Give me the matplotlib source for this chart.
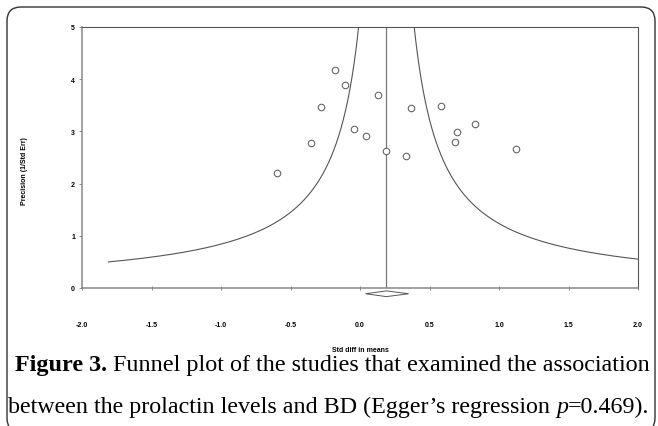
import numpy as np
import matplotlib
matplotlib.use("Agg")
import matplotlib.pyplot as plt
from matplotlib.patches import FancyBboxPatch, Polygon
from matplotlib.transforms import IdentityTransform

# study effects (std diff in means) and precision (1/SE)
effect = [-0.60, -0.35, -0.28, -0.18, -0.11, -0.04, 0.04, 0.13,
          0.19, 0.33, 0.37, 0.58, 0.68, 0.70, 0.83, 1.12]
precision = [2.21, 2.77, 3.47, 4.18, 3.88, 3.04, 2.92, 3.70,
             2.62, 2.52, 3.44, 3.49, 2.80, 2.99, 3.15, 2.66]
pooled = 0.19
pooled_ci = (0.04, 0.35)
xticks = [-2.0, -1.5, -1.0, -0.5, 0.0, 0.5, 1.0, 1.5, 2.0]
yticks = [0, 1, 2, 3, 4, 5]

caption1 = [('Figure 3.', 'normal', 'bold'),
            (' Funnel plot of the studies that examined the association', 'normal', 'normal')]
caption2 = [('between the prolactin levels and BD (Egger’s regression ', 'normal', 'normal'),
            ('p', 'italic', 'normal'),
            ('=0.469).', 'normal', 'normal')]

W, H = 658, 427
fig = plt.figure(figsize=(W / 100, H / 100), dpi=100)
ax = fig.add_axes([82 / W, 1 - 289 / H, 556 / W, 261 / H])

# funnel limits
prec = np.linspace(0.5, 5.5, 400)
ax.plot(pooled - 1.0 / prec, prec, color='#555555', lw=0.8)
ax.plot(pooled + 1.0 / prec, prec, color='#555555', lw=0.8)
ax.axvline(pooled, color='#777777', lw=0.9)

ax.scatter(effect, precision, s=22, facecolors='white', edgecolors='#666666',
           linewidths=0.8, zorder=3)

# pooled estimate diamond below the axis
dy = 0.055
yc = -0.11
ax.add_patch(Polygon([(pooled_ci[0], yc), (pooled, yc + dy), (pooled_ci[1], yc),
                      (pooled, yc - dy)], closed=True, facecolor='white',
                     edgecolor='#555555', lw=0.7, clip_on=False, zorder=4))

ax.set_xlim(-2.0, 2.0)
ax.set_ylim(0, 5)
ax.set_xticks(xticks)
ax.set_xticklabels(['%.1f' % v for v in xticks])
ax.set_yticks(yticks)
for lab in ax.get_xticklabels() + ax.get_yticklabels():
    lab.set_fontsize(5)
    lab.set_fontweight('bold')
    lab.set_family('Liberation Sans')
ax.tick_params(axis='x', direction='inout', length=3, width=0.6, color='#777777', pad=22)
ax.tick_params(axis='y', direction='out', length=2, width=0.6, color='#777777', pad=3)
for side in ['left', 'bottom']:
    ax.spines[side].set_color('#888888')
    ax.spines[side].set_linewidth(1.1)
for side in ['top', 'right']:
    ax.spines[side].set_color('#555555')
    ax.spines[side].set_linewidth(0.8)

fig.text(360 / W, 1 - 351 / H, 'Std diff in means', fontsize=5, fontweight='bold',
         family='Liberation Sans', ha='center', va='center')
fig.text(25 / W, 1 - 171 / H, 'Precision (1/Std Err)', fontsize=5, fontweight='bold',
         family='Liberation Sans', ha='center', va='center', rotation=90)


def caption_line(pieces, x0, x1, ybase, fs=17):
    """Draw styled pieces one after another, then scale to span x0..x1 pixels."""
    renderer = fig.canvas.get_renderer()
    texts = []
    for s, style, weight in pieces:
        texts.append(fig.text(0, 0, s, fontsize=fs, family='Liberation Serif',
                              style=style, fontweight=weight, ha='left',
                              va='baseline', transform=IdentityTransform()))

    def layout():
        x = x0
        for t in texts:
            t.set_position((x, ybase))
            x += t.get_window_extent(renderer).width
        return x - x0

    width = layout()
    scale = (x1 - x0) / width
    for t in texts:
        t.set_fontsize(fs * scale)
    layout()


caption_line(caption1, 15, 650, H - 371)
caption_line(caption2, 8, 650, H - 413)

# rounded frame, in pixels
frame = FancyBboxPatch((7, -6), 648, H - 8 + 6, boxstyle='round,pad=0,rounding_size=14',
                       transform=IdentityTransform(), facecolor='none',
                       edgecolor='#333333', lw=1.0, clip_on=False)
fig.patches.append(frame)

fig.savefig('out.png', dpi=100)
